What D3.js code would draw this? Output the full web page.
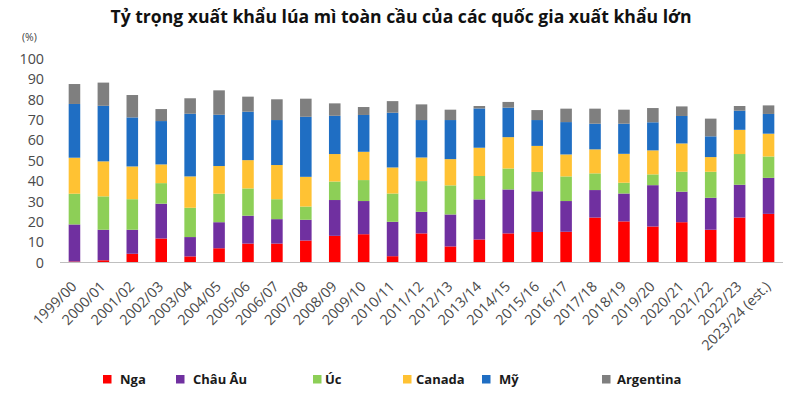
<!DOCTYPE html>
<html>
<head>
<meta charset="utf-8">
<script src="https://cdn.jsdelivr.net/npm/d3@7"></script>
<style>
  html, body { margin: 0; padding: 0; background: #fff; }
  svg { display: block; }
</style>
</head>
<body>
<svg id="chart" width="800" height="395"></svg>
<script>
const categories = ["1999/00","2000/01","2001/02","2002/03","2003/04","2004/05","2005/06","2006/07","2007/08","2008/09","2009/10","2010/11","2011/12","2012/13","2013/14","2014/15","2015/16","2016/17","2017/18","2018/19","2019/20","2020/21","2021/22","2022/23","2023/24 (est.)"];
const seriesNames = ["Nga","Châu Âu","Úc","Canada","Mỹ","Argentina"];
const nga       = [0.5, 1.1, 4.3, 11.8, 3.0, 7.0, 9.3, 9.3, 10.8, 13.1, 13.9, 3.1, 14.3, 7.9, 11.3, 14.3, 15.0, 15.1, 22.1, 20.2, 17.7, 19.8, 16.1, 22.1, 23.9];
const chauAu    = [18.2, 15.0, 11.8, 17.1, 9.5, 12.8, 13.7, 12.0, 10.2, 17.6, 16.3, 16.9, 10.6, 15.7, 19.7, 21.6, 20.0, 15.1, 13.5, 13.7, 20.3, 15.0, 15.7, 16.1, 17.7];
const uc        = [15.1, 16.4, 15.0, 10.1, 14.4, 14.0, 13.4, 9.8, 6.5, 9.1, 10.3, 13.9, 15.1, 14.3, 11.5, 10.3, 9.5, 12.1, 8.2, 5.3, 5.3, 9.8, 12.8, 15.1, 10.5];
const canada    = [17.7, 17.2, 16.1, 9.2, 15.4, 13.6, 13.9, 16.8, 14.6, 13.5, 13.9, 12.8, 11.6, 12.9, 13.9, 15.4, 12.8, 10.8, 11.8, 14.2, 11.8, 13.9, 7.2, 11.9, 11.2];
const my        = [26.4, 27.3, 24.1, 21.3, 30.8, 25.2, 23.8, 22.1, 29.5, 18.8, 18.1, 26.9, 18.4, 19.2, 19.3, 14.5, 12.7, 15.9, 12.6, 14.8, 13.8, 13.5, 10.2, 9.4, 9.7];
const argentina = [9.8, 11.4, 11.0, 5.9, 7.6, 12.0, 7.4, 10.2, 8.9, 6.1, 3.9, 5.7, 7.7, 5.1, 1.2, 2.8, 4.9, 6.6, 7.4, 6.9, 7.0, 4.7, 8.7, 2.3, 4.2];
const yTicks = [0,10,20,30,40,50,60,70,80,90,100];
const titleText = "Tỷ trọng xuất khẩu lúa mì toàn cầu của các quốc gia xuất khẩu lớn";
const unitText = "(%)";

// styles / layout
const colors = ["#FF0000","#7030A0","#8DCF57","#FFC233","#1F6EC3","#7F7F7F"];
const legendSquareX = [103, 176, 313, 403, 482, 602];
const legendTextX   = [120, 193, 325, 416, 499, 617];

const seriesData = [nga, chauAu, uc, canada, my, argentina];
const rows = categories.map((c, i) => {
  const r = { cat: c };
  seriesNames.forEach((s, j) => r[s] = seriesData[j][i]);
  return r;
});

const svg = d3.select("#chart");
const x = d3.scaleBand().domain(categories).range([60, 783]).paddingInner(0.6).paddingOuter(0.3);
const y = d3.scaleLinear().domain([0, 100]).range([262.5, 59]);

const stack = d3.stack().keys(seriesNames)(rows);

// title
svg.append("text")
  .attr("x", 401).attr("y", 23)
  .attr("text-anchor", "middle")
  .attr("font-family", "Open Sans")
  .attr("font-weight", "bold")
  .attr("font-size", 17.6)
  .attr("fill", "#111")
  .text(titleText);

svg.append("text")
  .attr("x", 22).attr("y", 41)
  .attr("font-family", "Open Sans")
  .attr("font-size", 10.5)
  .attr("fill", "#404040")
  .text(unitText);

// y axis labels
const yAxis = d3.axisLeft(y).tickValues(yTicks).tickSize(0).tickPadding(0).tickFormat(d3.format("d"));
const yg = svg.append("g").attr("transform", "translate(44,0)").call(yAxis);
yg.select(".domain").remove();
yg.selectAll("text")
  .attr("font-family", "Open Sans")
  .attr("font-size", 14.3)
  .attr("fill", "#4a4a4a");

// bars
svg.append("g").selectAll("g")
  .data(stack).join("g")
  .attr("fill", (d, i) => colors[i])
  .selectAll("rect")
  .data(d => d).join("rect")
  .attr("x", d => x(d.data.cat))
  .attr("width", x.bandwidth())
  .attr("y", d => y(d[1]))
  .attr("height", d => Math.max(0, y(d[0]) - y(d[1])));

// x axis
const xAxis = d3.axisBottom(x).tickSize(0).tickPadding(0);
const xg = svg.append("g").attr("transform", "translate(0,262.5)").call(xAxis);
xg.select(".domain").attr("stroke", "#BFBFBF").attr("stroke-width", 1)
  .attr("d", "M60,0H783");
xg.selectAll(".tick text")
  .attr("font-family", "Open Sans")
  .attr("font-size", 14.3)
  .attr("fill", "#4a4a4a")
  .attr("text-anchor", "end")
  .attr("dy", 0)
  .attr("transform", "translate(3,25) rotate(-45)");

// legend
const lg = svg.append("g");
seriesNames.forEach((s, i) => {
  lg.append("rect")
    .attr("x", legendSquareX[i]).attr("y", 375)
    .attr("width", 8.5).attr("height", 8.5)
    .attr("fill", colors[i]);
  lg.append("text")
    .attr("x", legendTextX[i]).attr("y", 384)
    .attr("font-family", "Open Sans")
    .attr("font-weight", "bold")
    .attr("font-size", 13)
    .attr("fill", "#1a1a1a")
    .text(s);
});
</script>
</body>
</html>
